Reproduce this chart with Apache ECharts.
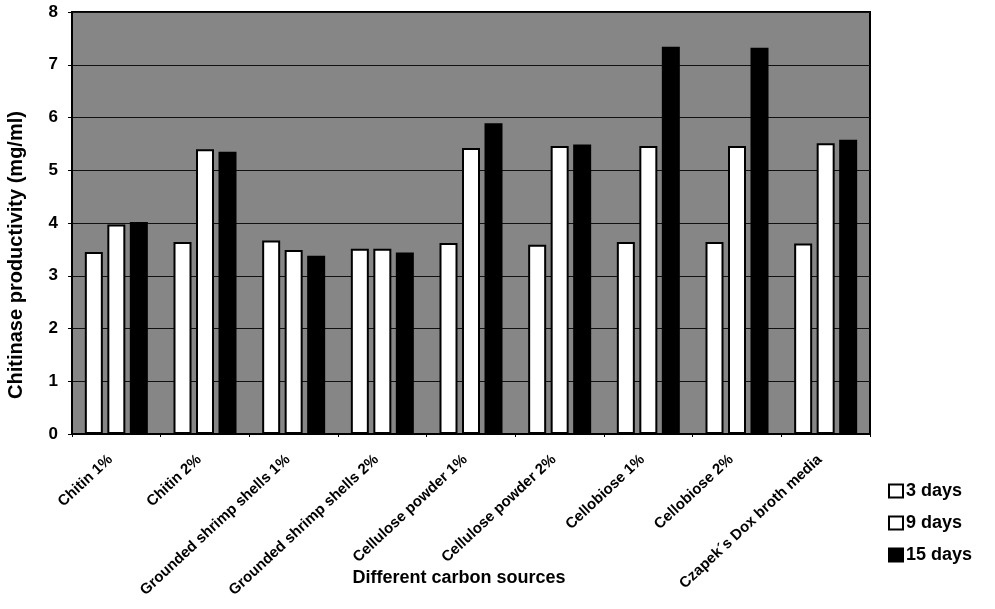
<!DOCTYPE html>
<html>
<head>
<meta charset="utf-8">
<script src="https://cdn.jsdelivr.net/npm/echarts@6/dist/echarts.min.js"></script>
<style>
  html, body { margin: 0; padding: 0; background: #fff; }
  #chart { width: 995px; height: 609px; }
</style>
</head>
<body>
<div id="chart"></div>
<script>
// Carbon sources tested and chitinase productivity (mg/ml) after each incubation period
const categories = [
  'Chitin 1%', 'Chitin 2%', 'Grounded shrimp shells 1%', 'Grounded shrimp shells 2%',
  'Cellulose powder 1%', 'Cellulose powder 2%', 'Cellobiose 1%', 'Cellobiose 2%',
  'Czapek´s Dox broth media'
];
const days3  = [3.45, 3.64, 3.67, 3.51, 3.62, 3.59, 3.64, 3.64, 3.61];
const days9  = [3.97, 5.40, 3.49, 3.51, 5.42, 5.46, 5.46, 5.46, 5.51];
const days15 = [4.02, 5.35, 3.38, 3.44, 5.89, 5.49, 7.34, 7.32, 5.58];
const yTicks = [0, 1, 2, 3, 4, 5, 6, 7, 8];

const font = '"Liberation Sans", Arial, sans-serif';
const chart = echarts.init(document.getElementById('chart'));

const barStyle = (fill) => ({
  color: fill,
  borderColor: '#000',
  borderWidth: 2
});

chart.setOption({
  animation: false,
  textStyle: { fontFamily: font },
  grid: {
    left: 72, right: 125, top: 12, bottom: 175,
    outerBoundsMode: 'none',
    show: true,
    backgroundColor: '#868686',
    borderColor: '#000',
    borderWidth: 2
  },
  legend: {
    orient: 'vertical',
    left: 883, top: 477,
    itemWidth: 14, itemHeight: 13,
    itemGap: 14,
    icon: 'rect',
    textStyle: { fontFamily: font, fontSize: 18, fontWeight: 'bold', color: '#000', padding: [0, 0, 0, -2] },
    data: ['3 days', '9 days', '15 days']
  },
  xAxis: {
    type: 'category',
    data: categories,
    name: 'Different carbon sources',
    nameLocation: 'middle',
    nameMoveOverlap: false,
    nameGap: 135,
    nameTextStyle: { fontFamily: font, fontSize: 18, fontWeight: 'bold', color: '#000', padding: [0, 24, 0, 0] },
    axisLine: { lineStyle: { color: '#000', width: 2 } },
    axisTick: { show: true, length: 3, lineStyle: { color: '#000' } },
    axisLabel: {
      interval: 0,
      rotate: 43,
      margin: 18,
      padding: [0, 8, 0, 0],
      fontFamily: font,
      fontSize: 15,
      fontWeight: 'bold',
      color: '#000'
    }
  },
  yAxis: {
    type: 'value',
    min: yTicks[0],
    max: yTicks[yTicks.length - 1],
    interval: 1,
    name: 'Chitinase productivity (mg/ml)',
    nameLocation: 'middle',
    nameMoveOverlap: false,
    nameGap: 46,
    nameTextStyle: { fontFamily: font, fontSize: 20, fontWeight: 'bold', color: '#000', padding: [0, 64, 0, 0] },
    axisLine: { show: true, lineStyle: { color: '#000', width: 2 } },
    axisTick: { show: true, length: 4, lineStyle: { color: '#000' } },
    axisLabel: { fontFamily: font, fontSize: 17, fontWeight: 'bold', color: '#000', margin: 14 },
    splitLine: { show: true, lineStyle: { color: '#111', width: 1 } }
  },
  series: [
    { name: '3 days',  type: 'bar', data: days3,  barWidth: 18, barGap: '25%', itemStyle: barStyle('#fff') },
    { name: '9 days',  type: 'bar', data: days9,  barWidth: 18, barGap: '25%', itemStyle: barStyle('#fff') },
    { name: '15 days', type: 'bar', data: days15, barWidth: 18, barGap: '25%', itemStyle: barStyle('#000') }
  ]
});
</script>
</body>
</html>
